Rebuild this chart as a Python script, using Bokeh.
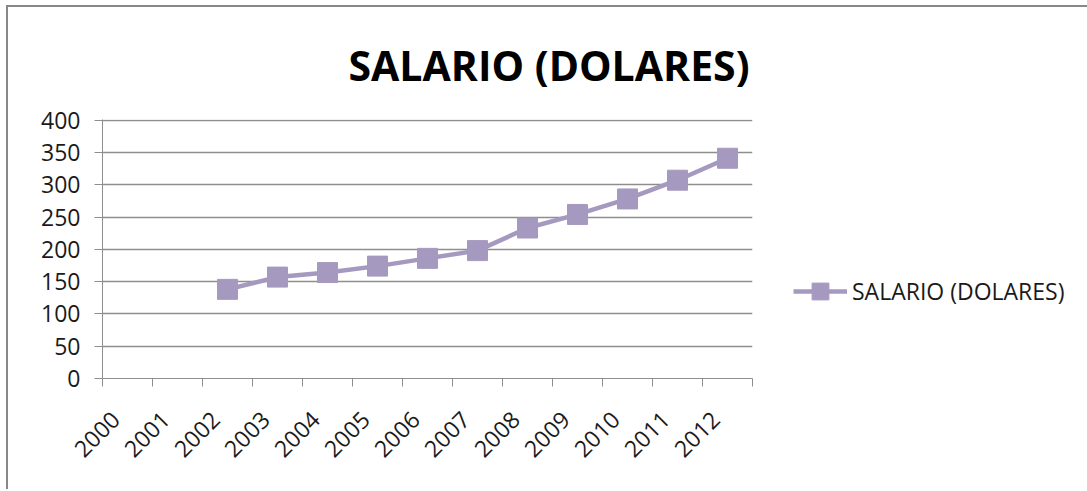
import math
from bokeh.plotting import figure
from bokeh.models import FixedTicker, Range1d, Legend, LegendItem, ColumnDataSource
from bokeh.embed import file_html
from bokeh.resources import INLINE

# ---- data ----
years = ["2000", "2001", "2002", "2003", "2004", "2005", "2006",
         "2007", "2008", "2009", "2010", "2011", "2012"]
salario = [float("nan"), float("nan"), 138, 157, 164, 174, 186,
           198, 233, 254, 278, 307, 341]
y_ticks = [0, 50, 100, 150, 200, 250, 300, 350, 400]
title_text = "SALARIO (DOLARES)"
series_name = "SALARIO (DOLARES)"

COLOR = "#A699BF"
GRID = "#8E8E8E"
TXT = "#1a1a1a"
FONT = "Open Sans"

xs = [i + 0.5 for i in range(len(years))]
label_pos = [round(x - 0.24, 2) for x in xs]   # label anchors, nudged left
src = ColumnDataSource(dict(x=xs, y=salario))

p = figure(frame_width=650, frame_height=259, output_backend="svg",
           toolbar_location=None,
           x_range=Range1d(0, len(years)), y_range=Range1d(0, 401),
           min_border_left=94, min_border_right=0, min_border_top=112,
           min_border_bottom=111)
p.outline_line_color = None
p.background_fill_color = "white"
p.border_fill_color = "white"
p.styles = {"border-top": "2px solid #888888", "border-left": "2px solid #888888",
            "margin-left": "6px", "margin-top": "5px", "padding-right": "30px"}

p.title.text = title_text
p.title.align = "left"
p.title.offset = 246
p.title.standoff = 54
p.title.text_font = FONT
p.title.text_font_size = "41px"
p.title.text_font_style = "bold"
p.title.text_color = "black"

# y axis
p.yaxis.ticker = FixedTicker(ticks=y_ticks)
p.yaxis.axis_line_color = GRID
p.yaxis.major_tick_line_color = GRID
p.yaxis.major_tick_out = 8
p.yaxis.major_tick_in = 0
p.yaxis.minor_tick_line_color = None
p.yaxis.major_label_standoff = 14
p.yaxis.major_label_text_font = FONT
p.yaxis.major_label_text_font_size = "23px"
p.yaxis.major_label_text_color = TXT

# x axis
p.xaxis.ticker = FixedTicker(ticks=label_pos, minor_ticks=list(range(len(years) + 1)))
p.xaxis.major_label_overrides = {x: y for x, y in zip(label_pos, years)}
p.xaxis.axis_line_color = GRID
p.xaxis.major_tick_out = 0
p.xaxis.major_tick_in = 0
p.xaxis.major_tick_line_color = None
p.xaxis.minor_tick_line_color = GRID
p.xaxis.minor_tick_out = 8
p.xaxis.minor_tick_in = 0
p.xaxis.major_label_orientation = math.pi / 4
p.xaxis.major_label_standoff = 29
p.xaxis.major_label_text_font = FONT
p.xaxis.major_label_text_font_size = "23px"
p.xaxis.major_label_text_color = TXT

p.xgrid.grid_line_color = None
p.ygrid.ticker = FixedTicker(ticks=y_ticks)
p.ygrid.grid_line_color = GRID
p.ygrid.grid_line_width = 1.3

lr = p.line("x", "y", source=src, line_color=COLOR, line_width=4.5)
sr = p.scatter("x", "y", source=src, marker="square", size=20,
               fill_color=COLOR, line_color=COLOR)

legend = Legend(items=[LegendItem(label=series_name, renderers=[lr, sr])],
                location=(41, 66), padding=0, margin=0, spacing=0,
                glyph_width=54, glyph_height=42, label_standoff=5,
                label_text_font=FONT, label_text_font_size="23px",
                label_text_color=TXT, border_line_color=None,
                background_fill_alpha=0)
p.add_layout(legend, "right")

open("out.html", "w").write(file_html(p, INLINE))
